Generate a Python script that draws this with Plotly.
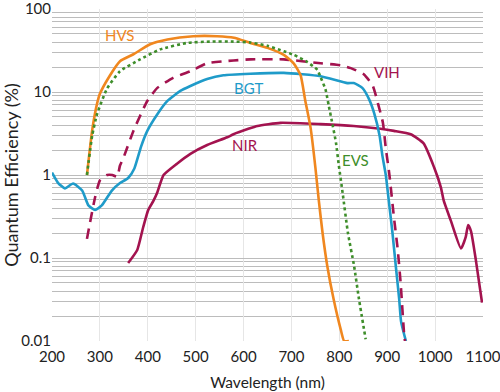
import math
import plotly.graph_objects as go

hvs_x = [273, 284, 294, 300, 320, 342, 370, 405, 441, 495, 545, 580, 614, 650, 684, 705, 719, 729, 740, 750, 757, 765, 775, 788, 803, 810, 820]
hvs_y = [1.0, 3.5, 7.2, 9.5, 15.5, 23.5, 28.5, 37.6, 43, 47, 47, 45, 39, 34, 28, 22, 16, 7.8, 3.7, 1.23, 0.5, 0.2, 0.079, 0.032, 0.0137, 0.01, 0.01]

evs_x = [273, 284, 294, 315, 342, 384, 426, 482, 530, 579, 614, 650, 684, 705, 733, 754, 761, 771, 778, 786, 793, 799, 807, 818, 831, 841, 855]
evs_y = [1.0, 3.0, 5.4, 11, 17.8, 24.7, 32.6, 39, 40.5, 40.5, 39.5, 36, 31, 28, 23, 18.5, 15, 10.8, 6.8, 4.0, 2.45, 1.3, 0.6, 0.2, 0.079, 0.032, 0.0105]

vih_x = [273, 290, 300, 315, 326, 336, 342, 349, 370, 399, 420, 453, 489, 524, 579, 614, 684, 761, 803, 824, 851, 870, 882, 891, 897, 904, 914, 922, 928, 935, 937]
vih_y = [0.17, 0.54, 0.86, 1.0, 1.0, 0.95, 1.3, 1.6, 3.4, 7.8, 11.2, 14.8, 17.8, 22.2, 24, 24.7, 24.7, 22.2, 21, 19.4, 16.4, 11.8, 6.8, 4.27, 2.1, 1.07, 0.31, 0.125, 0.05, 0.0127, 0.01]

bgt_x = [200, 213, 227, 244, 263, 276, 290, 304, 325, 342, 359, 372, 386, 399, 420, 441, 468, 489, 524, 558, 614, 684, 761, 817, 830, 848, 862, 873, 884, 890, 897, 904, 911, 918, 925, 929, 939]
bgt_y = [1.07, 0.8, 0.69, 0.79, 0.65, 0.43, 0.38, 0.43, 0.65, 0.8, 0.92, 1.2, 2.2, 3.4, 5.4, 7.8, 10.3, 11.8, 14.3, 15.9, 16.6, 17, 15.5, 12.8, 12.8, 11.2, 8.2, 5.5, 3.0, 1.7, 1.0, 0.45, 0.2, 0.079, 0.032, 0.017, 0.01]

nir_x = [359, 378, 390, 401, 412, 420, 433, 461, 489, 524, 566, 579, 610, 629, 677, 761, 830, 886, 914, 949, 976, 998, 1012, 1018, 1033, 1054, 1064, 1069, 1075, 1085, 1098]
nir_y = [0.087, 0.125, 0.23, 0.38, 0.49, 0.62, 1.0, 1.37, 1.8, 2.3, 2.85, 3.1, 3.6, 3.9, 4.25, 4.1, 3.9, 3.6, 3.4, 3.1, 2.4, 1.23, 0.71, 0.49, 0.28, 0.13, 0.18, 0.25, 0.21, 0.095, 0.029]

x_ticks = [200, 300, 400, 500, 600, 700, 800, 900, 1000, 1100]
y_ticks = [0.01, 0.1, 1, 10, 100]
y_tick_labels = ["0.01", "0.1", "1", "10", "100"]

series_labels = ["HVS", "BGT", "VIH", "NIR", "EVS"]
label_x = [342, 611, 900, 604, 834]
label_y = [48.8, 11.2, 17.4, 2.32, 1.53]

ORANGE = "#F0871F"
GREEN = "#3E8E2A"
PURPLE = "#A3134F"
BLUE = "#1F9BC9"
label_colors = [ORANGE, BLUE, PURPLE, PURPLE, GREEN]

FONT = "Lato"
sm = 0.5

fig = go.Figure()
fig.add_trace(go.Scatter(x=nir_x, y=nir_y, mode="lines", line=dict(color=PURPLE, width=2.6, shape="spline", smoothing=sm), name="NIR"))
fig.add_trace(go.Scatter(x=bgt_x, y=bgt_y, mode="lines", line=dict(color=BLUE, width=2.6, shape="spline", smoothing=sm), name="BGT"))
fig.add_trace(go.Scatter(x=vih_x, y=vih_y, mode="lines", line=dict(color=PURPLE, width=2.6, dash="10px,7px", shape="spline", smoothing=sm), name="VIH"))
fig.add_trace(go.Scatter(x=hvs_x, y=hvs_y, mode="lines", line=dict(color=ORANGE, width=2.6, shape="spline", smoothing=sm), name="HVS"))
fig.add_trace(go.Scatter(x=evs_x, y=evs_y, mode="lines", line=dict(color=GREEN, width=2.6, dash="dot", shape="spline", smoothing=sm), name="EVS"))

# white box behind HVS label (log axis -> log10 coordinates)
fig.add_shape(type="rect", xref="x", yref="y", x0=203, x1=418, y0=math.log10(36), y1=math.log10(62),
              fillcolor="white", line=dict(width=0), layer="below")

for name, ax, ay, col in zip(series_labels, label_x, label_y, label_colors):
    fig.add_annotation(x=ax, y=math.log10(ay), xref="x", yref="y", text=name, showarrow=False,
                       font=dict(color=col, size=15, family=FONT), xanchor="center", yanchor="middle")

fig.update_layout(
    width=500, height=392,
    margin=dict(l=52, r=17, t=9, b=51),
    paper_bgcolor="white", plot_bgcolor="white",
    showlegend=False,
    font=dict(family=FONT, size=15, color="#222"),
    xaxis=dict(range=[200, 1100], tickvals=x_ticks, showgrid=True, gridcolor="#e6e6e6", gridwidth=1,
               zeroline=False, showline=False, ticks="", tickfont=dict(size=15), automargin=False,
               ticklabeloverflow="allow", ticklabelstandoff=5,
               title=dict(text="Wavelength (nm)", font=dict(size=15.5), standoff=13)),
    yaxis=dict(type="log", range=[-2, 2], tickvals=y_ticks, ticktext=y_tick_labels, showgrid=True,
               gridcolor="#bcbcbc", gridwidth=1.3, zeroline=False, showline=False, ticks="",
               tickfont=dict(size=15), automargin=False, ticklabeloverflow="allow",
               minor=dict(dtick="D1", showgrid=True, gridcolor="#bcbcbc", gridwidth=1.3),
               title=dict(text="Quantum Efficiency (%)", font=dict(size=18), standoff=7)),
)

fig.write_html("out.html", config={"displayModeBar": False},
               post_script="document.body.style.margin='0';document.body.style.overflow='hidden';")
